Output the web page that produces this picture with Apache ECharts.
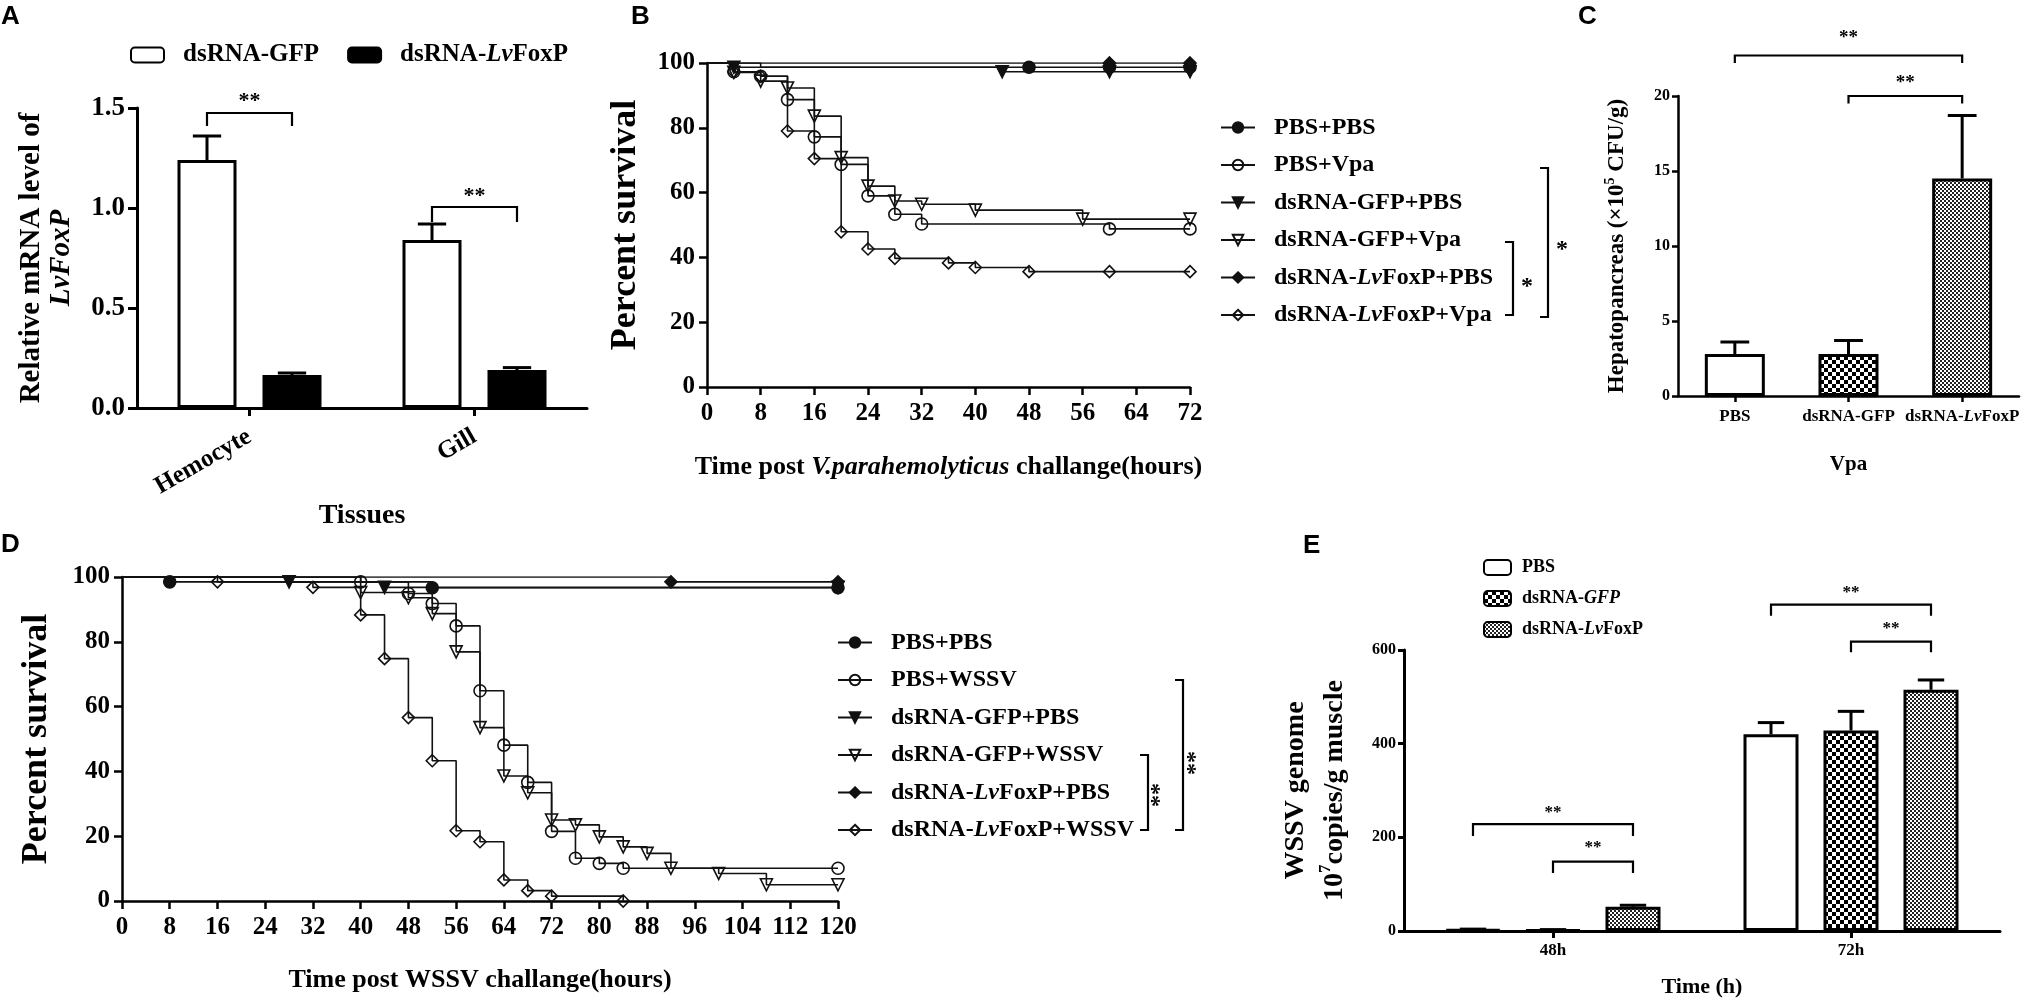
<!DOCTYPE html>
<html lang="en">
<head>
<meta charset="UTF-8" />
<title>LvFoxP knockdown</title>
<script src="https://cdn.jsdelivr.net/npm/echarts@6/dist/echarts.min.js"></script>
<style>
    body { margin: 0; padding: 0; background: #fff; }
    #chart { width: 2025px; height: 1000px; }
</style>
</head>
<body>
<div id="chart"></div>
<script>
// ---------- data ----------
// A: relative mRNA level of LvFoxP
const aTissues = ['Hemocyte', 'Gill'];
const aGfp = [1.24, 0.84];
const aGfpErr = [0.12, 0.08];
const aFoxp = [0.165, 0.19];
const aFoxpErr = [0.01, 0.012];

// B: survival after V. parahemolyticus, [hour, percent]
const bPbsPbs = [[0, 100], [8, 98.7], [48, 98.7], [60, 98.7], [72, 98.7]];
const bPbsVpa = [[0, 100], [4, 97.3], [8, 95.9], [12, 88.7], [16, 77.2], [20, 68.7], [24, 59], [28, 53.3], [32, 50.3], [60, 48.8], [72, 48.8]];
const bGfpPbs = [[0, 100], [4, 98.7], [44, 97.3], [60, 97.3], [72, 97.3]];
const bGfpVpa = [[0, 100], [4, 97.1], [8, 94.4], [12, 92.3], [16, 83.6], [20, 70.8], [24, 62], [28, 57.4], [32, 56.4], [40, 54.6], [56, 51.8], [72, 51.8]];
const bFoxpPbs = [[0, 100], [60, 100], [72, 100]];
const bFoxpVpa = [[0, 100], [4, 97.3], [8, 95.9], [12, 79], [16, 70.5], [20, 47.9], [24, 42.6], [28, 39.7], [36, 38.3], [40, 36.9], [48, 35.6], [60, 35.6], [72, 35.6]];
const bPbsPbsUnmarked = [8];

// C: hepatopancreas bacterial load
const cGroups = ['PBS', 'dsRNA-GFP', 'dsRNA-LvFoxP'];
const cLoad = [2.8, 2.8, 14.5];
const cLoadErr = [0.8, 0.9, 4.2];

// D: survival after WSSV, [hour, percent]
const dPbsPbs = [[0, 100], [8, 98.5], [52, 96.7], [120, 96.7]];
const dPbsWssv = [[0, 100], [40, 98.5], [48, 94.9], [52, 91.8], [56, 84.9], [60, 64.9], [64, 48.1], [68, 36.6], [72, 21.5], [76, 13.2], [80, 11.6], [84, 10.1], [120, 10.1]];
const dGfpPbs = [[0, 100], [28, 98.5], [44, 96.8], [120, 96.8]];
const dGfpWssv = [[0, 100], [40, 95.2], [48, 93.6], [52, 88.7], [56, 76.9], [60, 53.5], [64, 38.6], [68, 33.4], [72, 25], [76, 23.5], [80, 19.8], [84, 16.7], [88, 14.7], [92, 10.1], [100, 8.5], [108, 5], [120, 5]];
const dFoxpPbs = [[0, 100], [92, 98.5], [120, 98.5]];
const dFoxpWssv = [[0, 100], [16, 98.5], [32, 96.8], [40, 88.3], [44, 74.8], [48, 56.6], [52, 43.3], [56, 21.7], [60, 18.3], [64, 6.5], [68, 3.2], [72, 1.5], [84, 0]];

// E: WSSV copies in muscle
const eTimes = ['48h', '72h'];
const ePbs = [3, 420];
const ePbsErr = [1, 25];
const eGfp = [2, 428];
const eGfpErr = [1, 41];
const eFoxp = [52, 515];
const eFoxpErr = [3, 21];

// ---------- style helpers ----------
const SERIF = 'Liberation Serif';
const SANS = 'Liberation Sans';
const INK = '#000';

function txt(size, extra) {
    return Object.assign({ fontFamily: SERIF, fontWeight: 'bold', fontSize: size, color: INK }, extra || {});
}
function italic(size) {
    return { fontFamily: SERIF, fontWeight: 'bold', fontStyle: 'italic', fontSize: size, color: INK };
}
// superscript token: small text lifted by a bottom padding
function sup(size) {
    return { fontFamily: SERIF, fontWeight: 'bold', fontSize: size, lineHeight: size, color: INK, padding: [0, 0, size, 0] };
}

function checker(size, ink) {
    const c = document.createElement('canvas');
    c.width = c.height = size * 2;
    const ctx = c.getContext('2d');
    ctx.fillStyle = '#fff';
    ctx.fillRect(0, 0, size * 2, size * 2);
    ctx.fillStyle = ink;
    ctx.fillRect(0, 0, size, size);
    ctx.fillRect(size, size, size, size);
    return { image: c, repeat: 'repeat' };
}
const coarse = checker(4, '#000');
const fine = checker(2, '#222');

function legendLabel(name) {
    let s = name.indexOf('|') >= 0 ? name.split('|')[1] : name;
    if (name.indexOf('E|') === 0) s = s.replace('GFP', '{i|GFP}');
    return s.replace('Lv', '{i|Lv}');
}

function kmSeries(gi, name, pts, symbol, filled, rotate, unmarked) {
    const skip = unmarked || [];
    return {
        type: 'line', name: name, xAxisIndex: gi, yAxisIndex: gi,
        step: 'end', symbol: symbol, symbolSize: 12, symbolRotate: rotate || 0,
        showAllSymbol: true, animation: false,
        lineStyle: { color: '#111', width: 1.6 },
        itemStyle: { color: filled ? '#111' : 'rgba(255,255,255,0)', borderColor: '#111', borderWidth: 1.6 },
        data: pts.map(p => ({
            value: p,
            symbol: (p[0] === 0 || skip.indexOf(p[0]) >= 0) ? 'none' : symbol
        }))
    };
}

function barSeries(gi, name, vals, color, w, gap) {
    return {
        type: 'bar', name: name, xAxisIndex: gi, yAxisIndex: gi, barWidth: w, barGap: gap,
        animation: false,
        itemStyle: { color: color, borderColor: INK, borderWidth: 3 },
        data: vals
    };
}

// upper error bar, drawn from the bar top up to a cap
function errSeries(gi, vals, errs, idx, n, w, g, lw) {
    return {
        type: 'custom', xAxisIndex: gi, yAxisIndex: gi, z: 5, silent: true, animation: false,
        encode: { x: 0, y: [1, 2] },
        data: vals.map((v, i) => [i, v, v + errs[i]]),
        renderItem: (params, api) => {
            const off = (idx - (n - 1) / 2) * (w + g);
            const p0 = api.coord([api.value(0), api.value(1)]);
            const p1 = api.coord([api.value(0), api.value(2)]);
            const x = p0[0] + off;
            const cap = w * 0.24;
            return {
                type: 'group',
                children: [
                    { type: 'line', shape: { x1: x, y1: p0[1], x2: x, y2: p1[1] }, style: { stroke: INK, lineWidth: lw } },
                    { type: 'line', shape: { x1: x - cap, y1: p1[1], x2: x + cap, y2: p1[1] }, style: { stroke: INK, lineWidth: lw } }
                ]
            };
        }
    };
}

function axisLine(w) { return { show: true, onZero: false, lineStyle: { color: INK, width: w } }; }
function axisTick(len, w, align) { return { show: true, length: len, alignWithLabel: !!align, lineStyle: { color: INK, width: w } }; }

// ---------- layout ----------
const grids = [
    { left: 137, top: 108, width: 450, height: 300 },   // A
    { left: 707, top: 63, width: 483, height: 324 },    // B
    { left: 1678, top: 96, width: 341, height: 300 },   // C
    { left: 122, top: 577, width: 716, height: 324 },   // D
    { left: 1404, top: 650, width: 596, height: 281 }   // E
].map(g => Object.assign({ containLabel: false, outerBoundsMode: 'none' }, g));

const A_W = 59, A_G = 26, E_W = 55, E_G = 25;

const xAxes = [
    {
        gridIndex: 0, type: 'category', data: aTissues, boundaryGap: true,
        axisLine: axisLine(3), axisTick: axisTick(8, 3, true),
        axisLabel: txt(25, { rotate: 30, margin: 27 }),
        name: 'Tissues', nameLocation: 'middle', nameGap: 89, nameTextStyle: txt(28)
    },
    {
        gridIndex: 1, type: 'value', min: 0, max: 72, interval: 8,
        axisLine: axisLine(2.5), axisTick: axisTick(8, 2.5), splitLine: { show: false },
        axisLabel: txt(25, { margin: 14 }),
        name: 'Time post {i|V.parahemolyticus} challange(hours)', nameLocation: 'middle', nameGap: 67,
        nameTextStyle: txt(26, { rich: { i: italic(26) } })
    },
    {
        gridIndex: 2, type: 'category', data: cGroups, boundaryGap: true,
        axisLine: axisLine(2.5), axisTick: axisTick(6, 2.5, true),
        axisLabel: txt(17, {
            margin: 12, interval: 0,
            formatter: v => v.replace('Lv', '{i|Lv}'),
            rich: { i: italic(17) }
        }),
        name: 'Vpa', nameLocation: 'middle', nameGap: 58, nameTextStyle: txt(21)
    },
    {
        gridIndex: 3, type: 'value', min: 0, max: 120, interval: 8,
        axisLine: axisLine(2.5), axisTick: axisTick(8, 2.5), splitLine: { show: false },
        axisLabel: txt(25, { margin: 14 }),
        name: 'Time post WSSV challange(hours)', nameLocation: 'middle', nameGap: 66, nameTextStyle: txt(26)
    },
    {
        gridIndex: 4, type: 'category', data: eTimes, boundaryGap: true,
        axisLine: axisLine(3), axisTick: axisTick(7, 3, true),
        axisLabel: txt(17, { margin: 11 }),
        name: 'Time (h)', nameLocation: 'middle', nameGap: 45, nameTextStyle: txt(22)
    }
];

const yAxes = [
    {
        gridIndex: 0, type: 'value', min: 0, max: 1.5, interval: 0.5,
        axisLine: axisLine(3), axisTick: axisTick(9, 3), splitLine: { show: false },
        axisLabel: txt(27, { margin: 12, formatter: v => v.toFixed(1) }),
        name: 'Relative mRNA level of\n{i|LvFoxP}', nameLocation: 'middle', nameRotate: 90, nameGap: 60,
        nameTextStyle: txt(29, { lineHeight: 30, rich: { i: Object.assign(italic(29), { lineHeight: 30 }) } })
    },
    {
        gridIndex: 1, type: 'value', min: 0, max: 100, interval: 20,
        axisLine: axisLine(2.5), axisTick: axisTick(8, 2.5), splitLine: { show: false },
        axisLabel: txt(25, { margin: 12 }),
        name: 'Percent survival', nameLocation: 'middle', nameRotate: 90, nameGap: 63, nameTextStyle: txt(36)
    },
    {
        gridIndex: 2, type: 'value', min: 0, max: 20, interval: 5,
        axisLine: axisLine(2.5), axisTick: axisTick(6, 2.5), splitLine: { show: false },
        axisLabel: txt(16, { margin: 8 }),
        name: 'Hepatopancreas (×10{s|5} CFU/g)', nameLocation: 'middle', nameRotate: 90, nameGap: 49,
        nameTextStyle: txt(23, { rich: { s: sup(14) } })
    },
    {
        gridIndex: 3, type: 'value', min: 0, max: 100, interval: 20,
        axisLine: axisLine(2.5), axisTick: axisTick(8, 2.5), splitLine: { show: false },
        axisLabel: txt(25, { margin: 12 }),
        name: 'Percent survival', nameLocation: 'middle', nameRotate: 90, nameGap: 67, nameTextStyle: txt(36)
    },
    {
        gridIndex: 4, type: 'value', min: 0, max: 600, interval: 200,
        axisLine: axisLine(3), axisTick: axisTick(6, 3), splitLine: { show: false },
        axisLabel: txt(16, { margin: 8 }),
        name: 'WSSV genome\n10{s|7}copies/g muscle', nameLocation: 'middle', nameRotate: 90, nameGap: 50,
        nameTextStyle: txt(28, { lineHeight: 39, rich: { s: sup(17) } })
    }
];

const series = [
    // A
    barSeries(0, 'dsRNA-GFP', aGfp, '#fff', A_W, (A_G / A_W * 100) + '%'),
    barSeries(0, 'dsRNA-LvFoxP', aFoxp, '#000', A_W, (A_G / A_W * 100) + '%'),
    errSeries(0, aGfp, aGfpErr, 0, 2, A_W, A_G, 3),
    errSeries(0, aFoxp, aFoxpErr, 1, 2, A_W, A_G, 3),
    // B
    kmSeries(1, 'B|PBS+PBS', bPbsPbs, 'circle', true, 0, bPbsPbsUnmarked),
    kmSeries(1, 'B|PBS+Vpa', bPbsVpa, 'circle', false),
    kmSeries(1, 'B|dsRNA-GFP+PBS', bGfpPbs, 'triangle', true, 180),
    kmSeries(1, 'B|dsRNA-GFP+Vpa', bGfpVpa, 'triangle', false, 180),
    kmSeries(1, 'B|dsRNA-LvFoxP+PBS', bFoxpPbs, 'diamond', true),
    kmSeries(1, 'B|dsRNA-LvFoxP+Vpa', bFoxpVpa, 'diamond', false),
    // C
    {
        type: 'bar', name: 'C', xAxisIndex: 2, yAxisIndex: 2, barWidth: 60, animation: false,
        data: cLoad.map((v, i) => ({
            value: v,
            itemStyle: { color: ['#fff', coarse, fine][i], borderColor: INK, borderWidth: 3 }
        }))
    },
    errSeries(2, cLoad, cLoadErr, 0, 1, 60, 0, 3),
    // D
    kmSeries(3, 'D|PBS+PBS', dPbsPbs, 'circle', true),
    kmSeries(3, 'D|PBS+WSSV', dPbsWssv, 'circle', false),
    kmSeries(3, 'D|dsRNA-GFP+PBS', dGfpPbs, 'triangle', true, 180),
    kmSeries(3, 'D|dsRNA-GFP+WSSV', dGfpWssv, 'triangle', false, 180),
    kmSeries(3, 'D|dsRNA-LvFoxP+PBS', dFoxpPbs, 'diamond', true),
    kmSeries(3, 'D|dsRNA-LvFoxP+WSSV', dFoxpWssv, 'diamond', false),
    // E
    barSeries(4, 'E|PBS', ePbs, '#fff', E_W, (E_G / E_W * 100) + '%'),
    barSeries(4, 'E|dsRNA-GFP', eGfp, coarse, E_W, (E_G / E_W * 100) + '%'),
    barSeries(4, 'E|dsRNA-LvFoxP', eFoxp, fine, E_W, (E_G / E_W * 100) + '%'),
    errSeries(4, ePbs, ePbsErr, 0, 3, E_W, E_G, 3),
    errSeries(4, eGfp, eGfpErr, 1, 3, E_W, E_G, 3),
    errSeries(4, eFoxp, eFoxpErr, 2, 3, E_W, E_G, 3)
];

function legendBox(left, top, names, opt) {
    return Object.assign({
        left: left, top: top, data: names, selectedMode: false, formatter: legendLabel,
        padding: 0
    }, opt);
}
const kmText = txt(24, { lineHeight: 27, padding: [0, 0, 0, 14], rich: { i: Object.assign(italic(24), { lineHeight: 27 }) } });

const legends = [
    legendBox(130, 42, ['dsRNA-GFP', 'dsRNA-LvFoxP'], {
        orient: 'horizontal', itemWidth: 33, itemHeight: 15, itemGap: 28,
        textStyle: txt(25, { lineHeight: 26, padding: [0, 0, 0, 14], rich: { i: italic(25) } })
    }),
    legendBox(1220, 114, ['B|PBS+PBS', 'B|PBS+Vpa', 'B|dsRNA-GFP+PBS', 'B|dsRNA-GFP+Vpa', 'B|dsRNA-LvFoxP+PBS', 'B|dsRNA-LvFoxP+Vpa'], {
        orient: 'vertical', itemWidth: 34, itemHeight: 13, itemGap: 10.5, textStyle: kmText
    }),
    legendBox(837, 629, ['D|PBS+PBS', 'D|PBS+WSSV', 'D|dsRNA-GFP+PBS', 'D|dsRNA-GFP+WSSV', 'D|dsRNA-LvFoxP+PBS', 'D|dsRNA-LvFoxP+WSSV'], {
        orient: 'vertical', itemWidth: 34, itemHeight: 13, itemGap: 10.5, textStyle: kmText
    }),
    legendBox(1483, 558, ['E|PBS', 'E|dsRNA-GFP', 'E|dsRNA-LvFoxP'], {
        orient: 'vertical', itemWidth: 27, itemHeight: 15, itemGap: 12,
        textStyle: txt(18, { lineHeight: 19, padding: [0, 0, 0, 6], rich: { i: italic(18) } })
    })
];

const chart = echarts.init(document.getElementById('chart'));
chart.setOption({
    animation: false,
    backgroundColor: '#fff',
    grid: grids,
    xAxis: xAxes,
    yAxis: yAxes,
    legend: legends,
    series: series
});

// ---------- annotations ----------
function label(x, y, s) {
    return {
        type: 'text', x: x, y: y,
        style: { text: s, font: 'bold 26px "' + SANS + '"', fill: INK, textVerticalAlign: 'top', verticalAlign: 'top' }
    };
}
function stars(x, y, s, size, rot) {
    return {
        type: 'text', x: x, y: y, rotation: rot || 0,
        style: {
            text: s, font: 'bold ' + size + 'px "' + SERIF + '"', fill: INK,
            textAlign: 'center', align: 'center', textVerticalAlign: 'middle', verticalAlign: 'middle'
        }
    };
}
function poly(points, w) {
    return { type: 'polyline', shape: { points: points }, style: { stroke: INK, lineWidth: w, fill: null } };
}
function bracket(x1, x2, yt, yl, ys, size) {
    return [
        poly([[x1, yl], [x1, yt], [x2, yt], [x2, yl]], 2.2),
        stars((x1 + x2) / 2, ys + size * 0.18, '**', size)
    ];
}

// bracket over two bars of one group in a grouped bar panel
function barBracket(gi, cat, i1, i2, n, w, g, top, leg, starAt, size) {
    const c = chart.convertToPixel({ xAxisIndex: gi, yAxisIndex: gi }, [cat, 0])[0];
    const y = v => chart.convertToPixel({ yAxisIndex: gi }, v);
    return bracket(c + (i1 - (n - 1) / 2) * (w + g), c + (i2 - (n - 1) / 2) * (w + g), y(top), y(leg), y(starAt), size);
}
// bracket between two categories
function catBracket(gi, c1, c2, top, leg, starAt, size) {
    const x = c => chart.convertToPixel({ xAxisIndex: gi, yAxisIndex: gi }, [c, 0])[0];
    const y = v => chart.convertToPixel({ yAxisIndex: gi }, v);
    return bracket(x(c1), x(c2), y(top), y(leg), y(starAt), size);
}

let graphic = [
    label(1, 4, 'A'), label(631, 4, 'B'), label(1578, 4, 'C'), label(1, 532, 'D'), label(1303, 533, 'E'),
    // B legend comparison brackets
    poly([[1505, 242], [1513, 242], [1513, 315], [1505, 315]], 2.2),
    stars(1527, 287, '*', 24),
    poly([[1540, 168], [1548, 168], [1548, 317], [1540, 317]], 2.2),
    stars(1562, 250, '*', 24),
    // D legend comparison brackets
    poly([[1140, 755], [1148, 755], [1148, 830], [1140, 830]], 2.2),
    stars(1160, 795, '**', 24, Math.PI / 2),
    poly([[1175, 680], [1183, 680], [1183, 830], [1175, 830]], 2.2),
    stars(1196, 763, '**', 24, Math.PI / 2)
];
graphic = graphic
    .concat(barBracket(0, 0, 0, 1, 2, A_W, A_G, 1.475, 1.41, 1.555, 22))
    .concat(barBracket(0, 1, 0, 1, 2, A_W, A_G, 1.005, 0.93, 1.08, 22))
    .concat(catBracket(2, 0, 2, 22.7, 22.2, 24.1, 19))
    .concat(catBracket(2, 1.1, 2, 20, 19.5, 21.1, 19))
    .concat(barBracket(4, 1, 0, 2, 3, E_W, E_G, 697, 673, 729, 17))
    .concat(barBracket(4, 1, 1, 2, 3, E_W, E_G, 618, 595, 652, 17))
    .concat(barBracket(4, 0, 0, 2, 3, E_W, E_G, 228, 203, 259, 17))
    .concat(barBracket(4, 0, 1, 2, 3, E_W, E_G, 148, 124, 184, 17));

chart.setOption({ graphic: graphic });
</script>
</body>
</html>
